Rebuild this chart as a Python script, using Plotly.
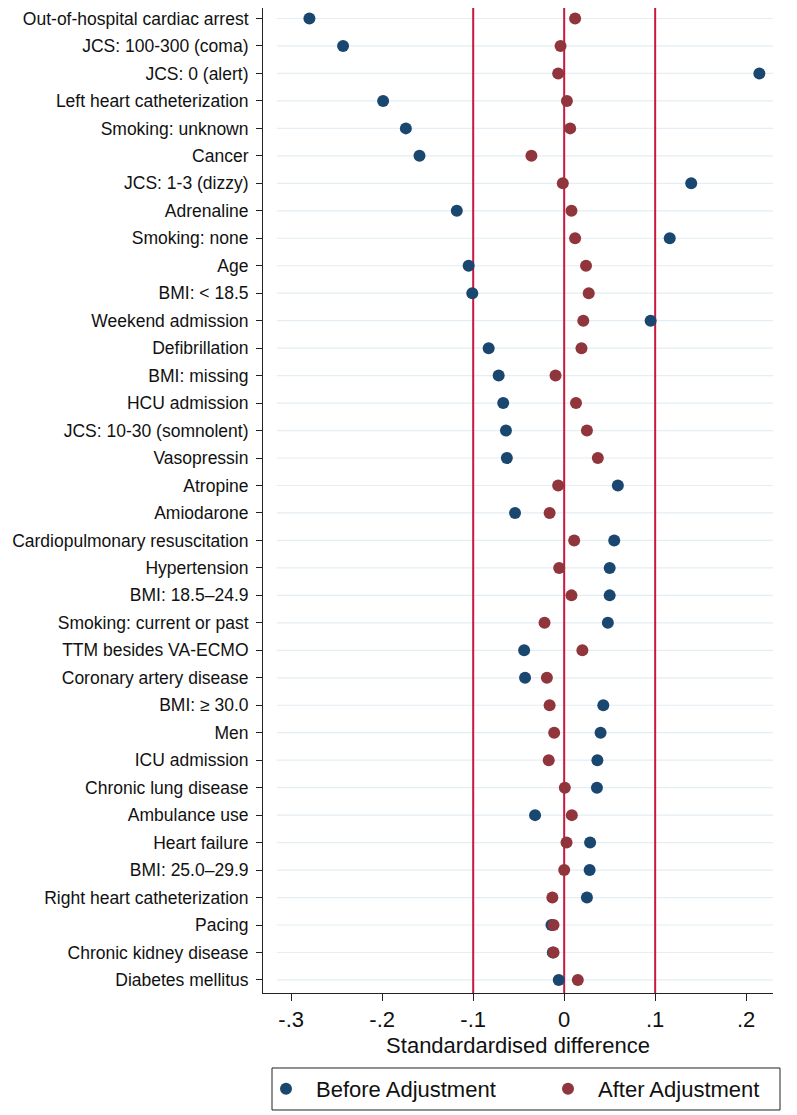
import plotly.graph_objects as go

categories = [
    "Out-of-hospital cardiac arrest", "JCS: 100-300 (coma)", "JCS: 0 (alert)",
    "Left heart catheterization", "Smoking: unknown", "Cancer", "JCS: 1-3 (dizzy)",
    "Adrenaline", "Smoking: none", "Age", "BMI: < 18.5", "Weekend admission",
    "Defibrillation", "BMI: missing", "HCU admission", "JCS: 10-30 (somnolent)",
    "Vasopressin", "Atropine", "Amiodarone", "Cardiopulmonary resuscitation",
    "Hypertension", "BMI: 18.5\u201324.9", "Smoking: current or past",
    "TTM besides VA-ECMO", "Coronary artery disease", "BMI: \u2265 30.0", "Men",
    "ICU admission", "Chronic lung disease", "Ambulance use", "Heart failure",
    "BMI: 25.0\u201329.9", "Right heart catheterization", "Pacing",
    "Chronic kidney disease", "Diabetes mellitus",
]

before_adj = [
    -0.280, -0.243, 0.2145, -0.199, -0.174, -0.159, 0.1396,
    -0.118, 0.116, -0.105, -0.101, 0.095,
    -0.083, -0.072, -0.067, -0.064,
    -0.063, 0.059, -0.054, 0.055,
    0.050, 0.050, 0.048,
    -0.044, -0.043, 0.043, 0.040,
    0.0365, 0.036, -0.032, 0.0285,
    0.028, 0.025, -0.014,
    -0.0125, -0.006,
]

after_adj = [
    0.012, -0.004, -0.0066, 0.003, 0.0066, -0.036, -0.0015,
    0.008, 0.012, 0.024, 0.027, 0.021,
    0.019, -0.0095, 0.013, 0.025,
    0.037, -0.0066, -0.016, 0.011,
    -0.0055, 0.008, -0.0216,
    0.020, -0.019, -0.016, -0.011,
    -0.017, 0.0007, 0.0084, 0.0026,
    0.000, -0.013, -0.0117,
    -0.0117, 0.015,
]

ref_lines = [-0.1, 0.0, 0.1]
x_ticks = [-0.3, -0.2, -0.1, 0.0, 0.1, 0.2]
x_ticktext = ["-.3", "-.2", "-.1", "0", ".1", ".2"]

BLUE = "#1a476f"
RED = "#90353b"
LINE_RED = "#c9183f"
GRID = "#e4eef4"
FONT = "Liberation Sans, Arial, Helvetica, sans-serif"

fig = go.Figure()
fig.add_trace(go.Scatter(
    x=before_adj, y=categories, mode="markers", name="Before Adjustment",
    marker=dict(color=BLUE, size=12, line=dict(width=0)), legend="legend",
))
fig.add_trace(go.Scatter(
    x=after_adj, y=categories, mode="markers", name="After Adjustment",
    marker=dict(color=RED, size=12, line=dict(width=0)), legend="legend2",
))

shapes = []
for c in categories:
    shapes.append(dict(type="line", xref="x domain", yref="y", x0=0.027, x1=1.0,
                       y0=c, y1=c, line=dict(color=GRID, width=1.2), layer="below"))
for v in ref_lines:
    shapes.append(dict(type="line", xref="x", yref="y domain", x0=v, x1=v,
                       y0=0, y1=1, line=dict(color=LINE_RED, width=2), layer="below"))
# legend frame
shapes.append(dict(type="rect", xref="paper", yref="paper",
                   x0=0.01765, x1=1.01373, y0=-0.11878, y1=-0.07614,
                   line=dict(color="#222222", width=1), fillcolor="rgba(0,0,0,0)"))

leg_common = dict(
    orientation="h", yanchor="middle", y=-0.09746, xanchor="left",
    borderwidth=0, bgcolor="rgba(0,0,0,0)",
    font=dict(size=22, family=FONT, color="#111111"),
    itemsizing="constant", itemwidth=50,
)

fig.update_layout(
    width=789, height=1107,
    margin=dict(l=255, r=24, t=0, b=122, autoexpand=False),
    paper_bgcolor="white", plot_bgcolor="white",
    font=dict(family=FONT, color="#111111"),
    shapes=shapes,
    showlegend=True,
    legend=dict(leg_common, x=(248 - 255) / 510),
    legend2=dict(leg_common, x=(530 - 255) / 510),
    xaxis=dict(
        range=[-0.331, 0.2295], tickvals=x_ticks, ticktext=x_ticktext,
        showgrid=False, zeroline=False, showline=True, linecolor="#222222",
        linewidth=1, ticks="outside", ticklen=7, tickcolor="#222222",
        tickfont=dict(size=22, family=FONT),
        title=dict(text="Standardardised difference", font=dict(size=22, family=FONT),
                   standoff=6),
    ),
    yaxis=dict(
        type="category", categoryorder="array", categoryarray=categories,
        range=[35.475, -0.3822], showgrid=False, zeroline=False,
        showline=True, linecolor="#222222", linewidth=1,
        ticks="outside", ticklen=6, tickcolor="#222222",
        tickfont=dict(size=17.5, family=FONT), ticklabelstandoff=4,
    ),
)

fig.write_html("out.html")
